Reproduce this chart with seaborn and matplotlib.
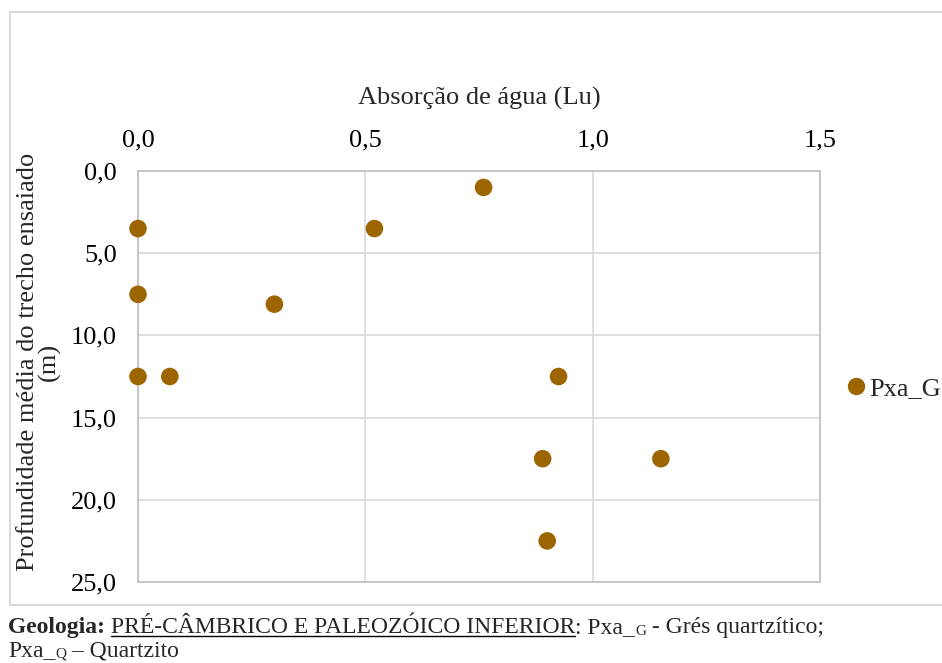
import matplotlib
matplotlib.use('Agg')
import matplotlib.pyplot as plt
import seaborn as sns
import pandas as pd
from matplotlib.patches import Rectangle
from matplotlib.lines import Line2D
from matplotlib.ticker import FuncFormatter, MultipleLocator

# dados
absorcao = [0.0, 0.0, 0.0, 0.07, 0.30, 0.52, 0.76, 0.925, 0.89, 1.15, 0.90]
profundidade = [3.5, 7.5, 12.5, 12.5, 8.1, 3.5, 1.0, 12.5, 17.5, 17.5, 22.5]
serie = ["Pxa_G"] * len(absorcao)

COR = "#9c6500"
FONTE = "Liberation Serif"
TAM = 19

sns.set_theme(style="white")
plt.rcParams['font.family'] = [FONTE, 'DejaVu Serif']

df = pd.DataFrame({"x": absorcao, "y": profundidade, "serie": serie})

fig = plt.figure(figsize=(9.42, 6.63), dpi=100)
ax = fig.add_axes([138 / 942, 1 - 582 / 663, (820 - 138) / 942, (582 - 171) / 663])

sns.scatterplot(data=df, x="x", y="y", hue="serie", palette={"Pxa_G": COR},
                s=160, linewidth=0, ax=ax, legend=False, zorder=3, clip_on=False)

ax.set_xlim(0, 1.5)
ax.set_ylim(25, 0)
ax.xaxis.set_major_locator(MultipleLocator(0.5))
ax.yaxis.set_major_locator(MultipleLocator(5))
fmt = FuncFormatter(lambda v, p: f"{v:.1f}".replace('.', ','))
ax.xaxis.set_major_formatter(fmt)
ax.yaxis.set_major_formatter(fmt)
ax.xaxis.tick_top()
ax.xaxis.set_label_position('top')
ax.tick_params(axis='both', length=0, labelsize=TAM, colors='black')
ax.tick_params(axis='x', pad=14)
ax.tick_params(axis='y', pad=15)

ax.grid(True, color='#d9d9d9', linewidth=1.2)
for s in ax.spines.values():
    s.set_visible(True)
    s.set_color('#bfbfbf')
    s.set_linewidth(1.2)

ax.set_xlabel("Absorção de água (Lu)", fontsize=TAM, labelpad=18)
ax.set_ylabel("Profundidade média do trecho ensaiado\n(m)", fontsize=TAM,
              linespacing=0.95)
ax.yaxis.set_label_coords(-0.113, 0.535)

# legenda
h = [Line2D([0], [0], marker='o', linestyle='', color=COR, markersize=11.5)]
fig.legend(h, ["Pxa_G"], loc='center left', bbox_to_anchor=(840 / 942, 1 - 388 / 663),
           frameon=False, fontsize=TAM, handletextpad=-0.1, handlelength=1.2,
           borderpad=0, borderaxespad=0)

# moldura externa
fig.add_artist(Rectangle((10 / 942, 1 - 605 / 663), 940 / 942, 593 / 663,
                         transform=fig.transFigure, fill=False,
                         edgecolor='#d9d9d9', linewidth=1.5))

# nota de rodapé com partes em negrito, sublinhado e subscrito
fig.canvas.draw()
r = fig.canvas.get_renderer()
inv = fig.transFigure.inverted()


def escreve(x, y, txt, size=17, **kw):
    t = fig.text(x, y, txt, fontsize=size, va='baseline', ha='left', **kw)
    bb = t.get_window_extent(renderer=r)
    return inv.transform((bb.x1, bb.y0))[0]


y1 = 1 - 633 / 663
y2 = 1 - 656 / 663
x = 8 / 942
x = escreve(x, y1, "Geologia: ", fontweight='bold')
x0 = x
x = escreve(x, y1, "PRÉ-CÂMBRICO E PALEOZÓICO INFERIOR")
fig.add_artist(Line2D([x0, x], [y1 - 3 / 663, y1 - 3 / 663], transform=fig.transFigure,
                      color='black', linewidth=1))
x = escreve(x, y1, ": Pxa_")
x = escreve(x, y1 - 2 / 663, "G", size=11)
x = escreve(x, y1, " - Grés quartzítico;")

x = 8 / 942
x = escreve(x, y2, "Pxa_")
x = escreve(x, y2 - 1 / 663, "Q", size=11)
x = escreve(x, y2, " – Quartzito")

fig.savefig("out.png", dpi=100)
